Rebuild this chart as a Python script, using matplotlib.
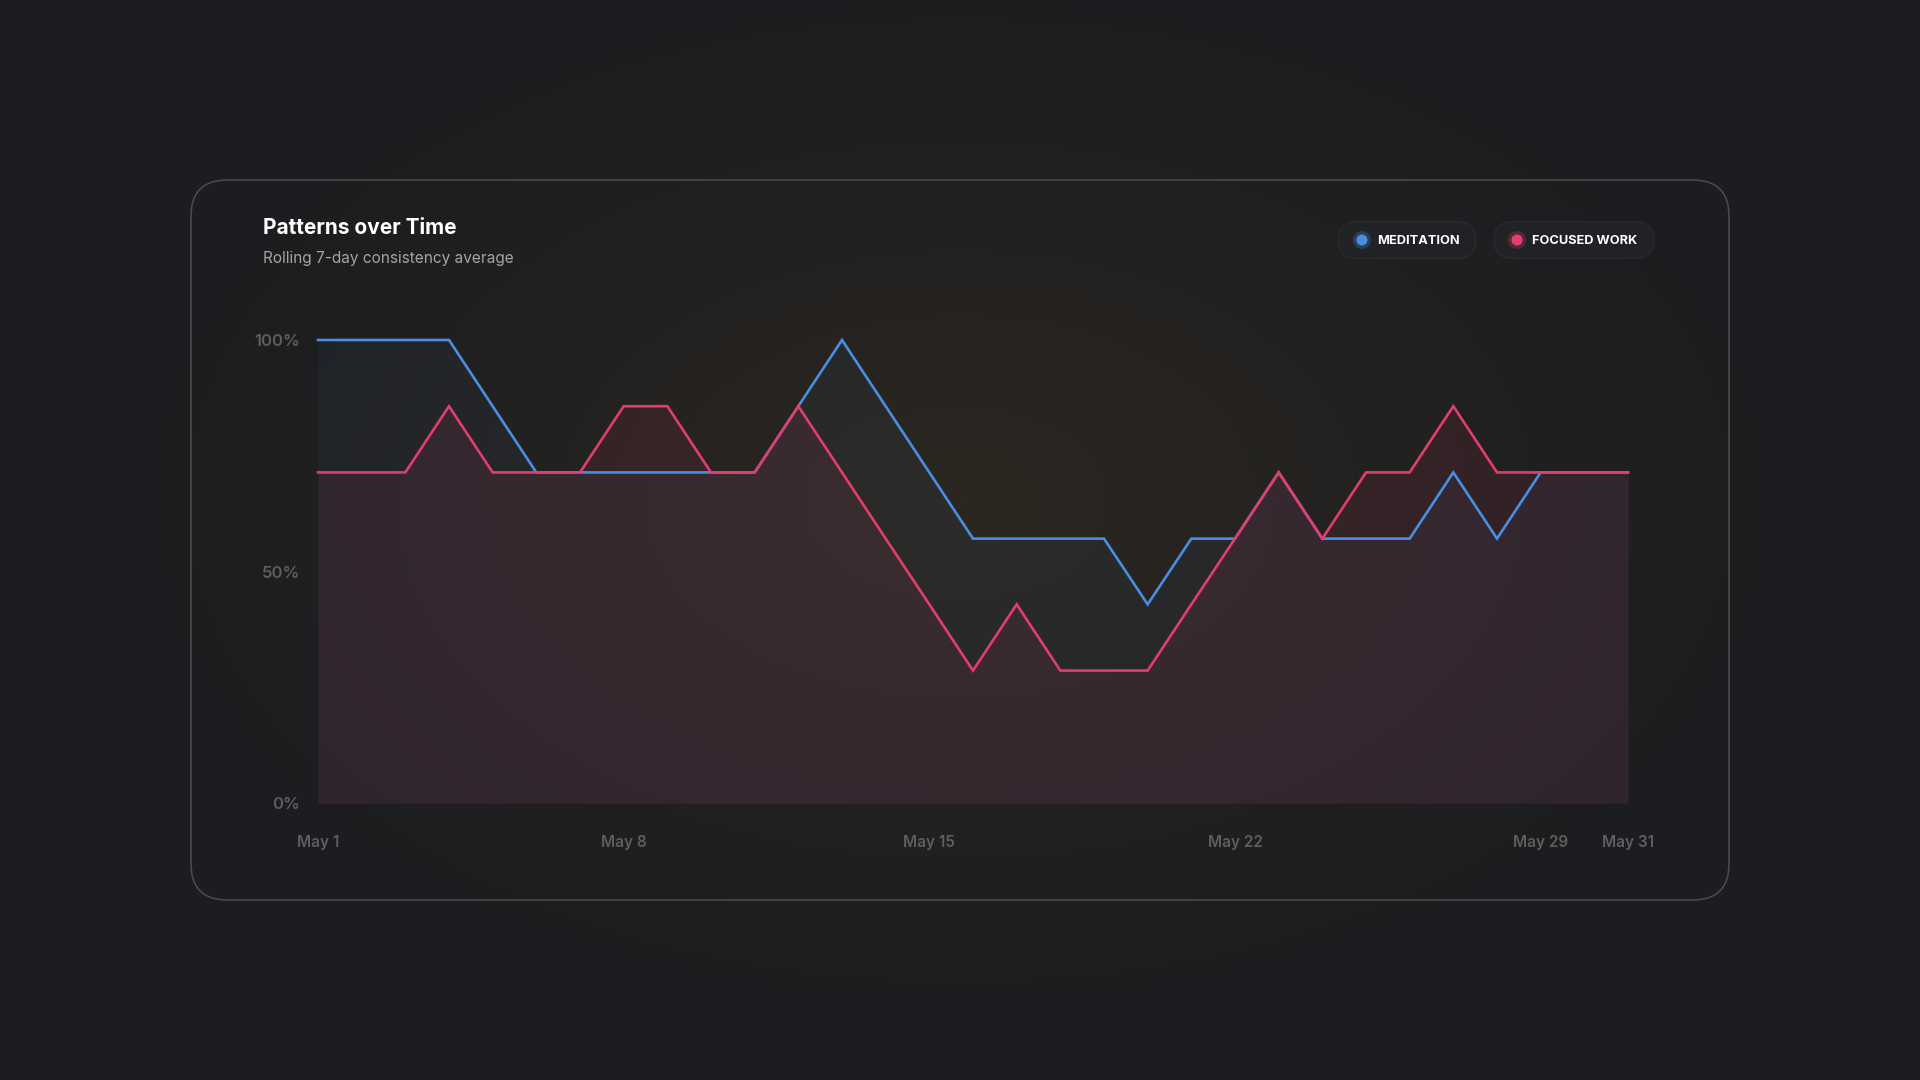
import numpy as np
import matplotlib
matplotlib.use('Agg')
import matplotlib.pyplot as plt
from matplotlib.patches import FancyBboxPatch, Circle

plt.rcParams['font.family'] = ['Inter', 'DejaVu Sans']

# data (rolling 7-day consistency, %)
days = list(range(1, 32))
meditation = [100, 100, 100, 100, 85.7, 71.4, 71.4, 71.4, 71.4, 71.4, 71.4, 85.7, 100, 85.7, 71.4, 57.1,
              57.1, 57.1, 57.1, 42.9, 57.1, 57.1, 71.4, 57.1, 57.1, 57.1, 71.4, 57.1, 71.4, 71.4, 71.4]
focused = [71.4, 71.4, 71.4, 85.7, 71.4, 71.4, 71.4, 85.7, 85.7, 71.4, 71.4, 85.7, 71.4, 57.1, 42.9, 28.6,
           42.9, 28.6, 28.6, 28.6, 42.9, 57.1, 71.4, 57.1, 71.4, 71.4, 85.7, 71.4, 71.4, 71.4, 71.4]
xtick_days = [1, 8, 15, 22, 29, 31]
xtick_labels = ['May 1', 'May 8', 'May 15', 'May 22', 'May 29', 'May 31']
ytick_vals = [0, 50, 100]
ytick_labels = ['0%', '50%', '100%']
series_names = ['MEDITATION', 'FOCUSED WORK']

BLUE = '#4a8ee0'
RED = '#e23d6d'
W, H = 1920, 1080

fig = plt.figure(figsize=(19.2, 10.8), dpi=100)

def fx(px):
    return px / W

def fy(py):
    return 1 - py / H

# background radial glow
bg = fig.add_axes([0, 0, 1, 1])
bg.set_axis_off()
yy, xx = np.mgrid[0:H, 0:W]
d = np.sqrt(((xx - 960) / 900.0) ** 2 + ((yy - 500) / 560.0) ** 2)
t = np.clip(1 - d, 0, 1) ** 1.2
edge = np.array([0x1c, 0x1d, 0x21]) / 255.0
center = np.array([0x2c, 0x27, 0x20]) / 255.0
img = edge[None, None, :] * (1 - t[..., None]) + center[None, None, :] * t[..., None]
bg.imshow(img, extent=[0, W, H, 0], aspect='auto')
bg.set_xlim(0, W)
bg.set_ylim(H, 0)

# card
card = FancyBboxPatch((191, 180), 1538, 720, boxstyle='round,pad=0,rounding_size=36',
                      facecolor='none', edgecolor='#4a4a4a', linewidth=1.2)
bg.add_patch(card)

# title
bg.text(263, 228, 'Patterns over Time', color='white', fontsize=15, fontweight='bold',
        va='center', ha='left')
bg.text(263, 258, 'Rolling 7-day consistency average', color='#a3a3a3', fontsize=11.1,
        va='center', ha='left')

# legend pills
pills = [(1338, 138, 1362, BLUE), (1494, 160, 1517, RED)]
for (px0, pw, dx, col), name in zip(pills, series_names):
    pill = FancyBboxPatch((px0, 222), pw, 36, boxstyle='round,pad=0,rounding_size=18',
                          facecolor='#212225', edgecolor='#2a2b2e', linewidth=1.0)
    bg.add_patch(pill)
    bg.add_patch(Circle((dx, 240), 9, color=col, alpha=0.25, linewidth=0))
    bg.add_patch(Circle((dx, 240), 5.5, color=col, linewidth=0))
    bg.text(dx + 15, 241, name, color='white', fontsize=9.2, fontweight='bold',
            va='center', ha='left')

# plot area
x0, x1 = 318, 1628
y_top, y_bot = 340, 803
ax = fig.add_axes([fx(x0), fy(y_bot), fx(x1 - x0), (y_bot - y_top) / H])
ax.set_facecolor('none')
ax.patch.set_alpha(0)
ax.fill_between(days, meditation, 0, color=BLUE, alpha=0.05, linewidth=0)
ax.fill_between(days, focused, 0, color=RED, alpha=0.09, linewidth=0)
ax.plot(days, meditation, color=BLUE, linewidth=1.9, clip_on=False, solid_joinstyle='miter')
ax.plot(days, focused, color=RED, linewidth=1.9, clip_on=False, solid_joinstyle='miter')
ax.set_xlim(1, 31)
ax.set_ylim(0, 100)
for s in ax.spines.values():
    s.set_visible(False)
ax.set_xticks(xtick_days)
ax.set_xticklabels(xtick_labels)
ax.set_yticks(ytick_vals)
ax.set_yticklabels(ytick_labels)
ax.tick_params(axis='both', length=0, colors='#5e5e5e', labelsize=11)
ax.tick_params(axis='y', labelsize=12, pad=13)
ax.tick_params(axis='x', pad=23)
for lab in ax.get_xticklabels() + ax.get_yticklabels():
    lab.set_fontweight('semibold')

fig.savefig('out.png', dpi=100)
